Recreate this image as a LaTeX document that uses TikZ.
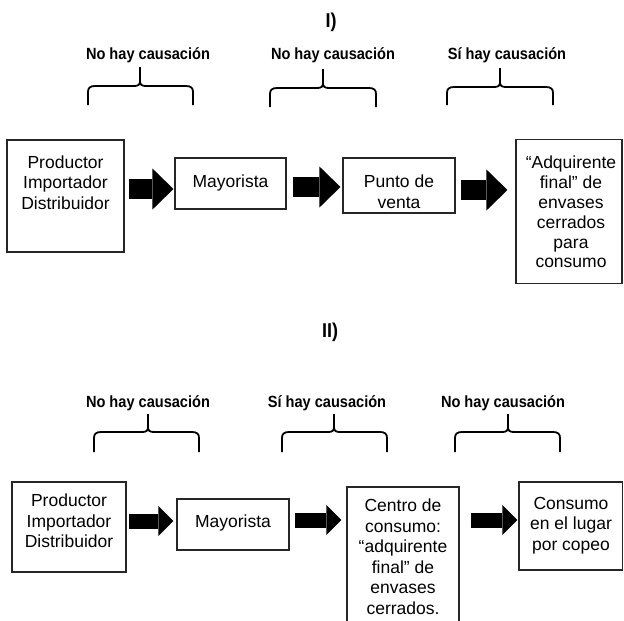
\documentclass[tikz,border=0pt]{standalone}
\usepackage{fontspec}
\setmainfont{Liberation Sans}
\newfontfamily\narrowsans[FakeStretch=0.9]{Liberation Sans}
\usetikzlibrary{arrows.meta}
\newcommand{\mybrace}[6]{%
 \draw[brc] (#1,#6) -- (#1,#5+6) .. controls (#1,#5+2) and (#1+2,#5) .. (#1+7,#5) -- (#2-6,#5) .. controls (#2-2,#5) and (#2,#5-1) .. (#2,#5-5) -- (#2,#4);
 \draw[brc] (#3,#6) -- (#3,#5+6) .. controls (#3,#5+2) and (#3-2,#5) .. (#3-7,#5) -- (#2+6,#5) .. controls (#2+2,#5) and (#2,#5-1) .. (#2,#5-5);}
\begin{document}
\begin{tikzpicture}[x=1pt,y=-1pt,
 box/.style={draw=black!85, line width=1.1pt, rectangle, inner sep=0pt},
 txt/.style={align=center, inner sep=0pt, anchor=north, font=\fontsize{17.5}{20.5}\selectfont},
 lbl/.style={font=\narrowsans\bfseries\fontsize{16.2}{18}\selectfont, inner sep=0pt},
 ttl/.style={font=\narrowsans\bfseries\fontsize{20}{22}\selectfont, inner sep=0pt},
 brc/.style={line width=1.8pt},
 bigarrow/.style={line width=20pt, -{Triangle[length=21pt,width=41pt,line width=0pt]}},
 smallarrow/.style={line width=15pt, -{Triangle[length=15pt,width=30pt,line width=0pt]}},
]
\clip (0,0) rectangle (624,621);
\fill[white] (0,0) rectangle (624,621);

% ---------- Part I ----------
\node[ttl] (t1) at (331,22) {I)};
\node[lbl] (l1) at (148,55) {No hay causación};
\node[lbl] (l2) at (333,55) {No hay causación};
\node[lbl] (l3) at (507,55) {Sí hay causación};
\mybrace{88}{140}{193}{67}{86}{105}
\mybrace{270}{323}{376}{69}{88}{107}
\mybrace{447}{500}{553}{68}{87}{105}

\node[box, minimum width=117pt, minimum height=112pt] (p1) at (65.5,196) {};
\node[txt] (p1t) at (65.5,155.5) {Productor\\Importador\\Distribuidor};
\node[box, minimum width=111pt, minimum height=51pt] (p2) at (230.5,183.5) {};
\node[txt] (p2t) at (230.5,175) {Mayorista};
\node[box, minimum width=112pt, minimum height=55pt] (p3) at (399,185.5) {};
\node[txt] (p3t) at (399,175) {Punto de\\venta};
\node[box, minimum width=106pt, minimum height=144pt] (p4) at (569,211.5) {};
\node[txt, font=\fontsize{17.5}{19.8}\selectfont] (p4t) at (571,156) {“Adquirente\\final” de\\envases\\cerrados\\para\\consumo};

\coordinate (r1) at (0,189);
\coordinate (r2) at (0,187);
\coordinate (r3) at (0,190);
\draw[bigarrow] ([xshift=4pt]p1.east |- r1) -- ([xshift=-1pt]p2.west |- r1);
\draw[bigarrow] ([xshift=6pt]p2.east |- r2) -- ([xshift=-2pt]p3.west |- r2);
\draw[bigarrow] ([xshift=5pt]p3.east |- r3) -- ([xshift=-8pt]p4.west |- r3);

% ---------- Part II ----------
\node[ttl] (t2) at (330,332) {II)};
\node[lbl] (m1) at (148,403) {No hay causación};
\node[lbl] (m2) at (327,403) {Sí hay causación};
\node[lbl] (m3) at (503,403) {No hay causación};
\mybrace{94}{148}{199}{414}{432}{452}
\mybrace{282}{334}{387}{414}{432}{452}
\mybrace{455}{508}{560}{414}{432}{452}

\node[box, minimum width=114pt, minimum height=90pt] (q1) at (69,527) {};
\node[txt] (q1t) at (69,493.7) {Productor\\Importador\\Distribuidor};
\node[box, minimum width=112pt, minimum height=51pt] (q2) at (233,524.5) {};
\node[txt] (q2t) at (233,514.7) {Mayorista};
\node[box, minimum width=112pt, minimum height=153pt] (q3) at (403,563.5) {};
\node[txt] (q3t) at (403,498.7) {Centro de\\consumo:\\“adquirente\\final” de\\envases\\cerrados.};
\node[box, minimum width=103.5pt, minimum height=88pt] (q4) at (570.75,526) {};
\node[txt] (q4t) at (571,496.7) {Consumo\\en el lugar\\por copeo};

\coordinate (s1) at (0,521);
\coordinate (s2) at (0,520);
\coordinate (s3) at (0,520);
\draw[smallarrow] ([xshift=2pt]q1.east |- s1) -- ([xshift=-3pt]q2.west |- s1);
\draw[smallarrow] ([xshift=5pt]q2.east |- s2) -- ([xshift=-5pt]q3.west |- s2);
\draw[smallarrow] ([xshift=11pt]q3.east |- s3) -- ([xshift=-1pt]q4.west |- s3);
\end{tikzpicture}
\end{document}
